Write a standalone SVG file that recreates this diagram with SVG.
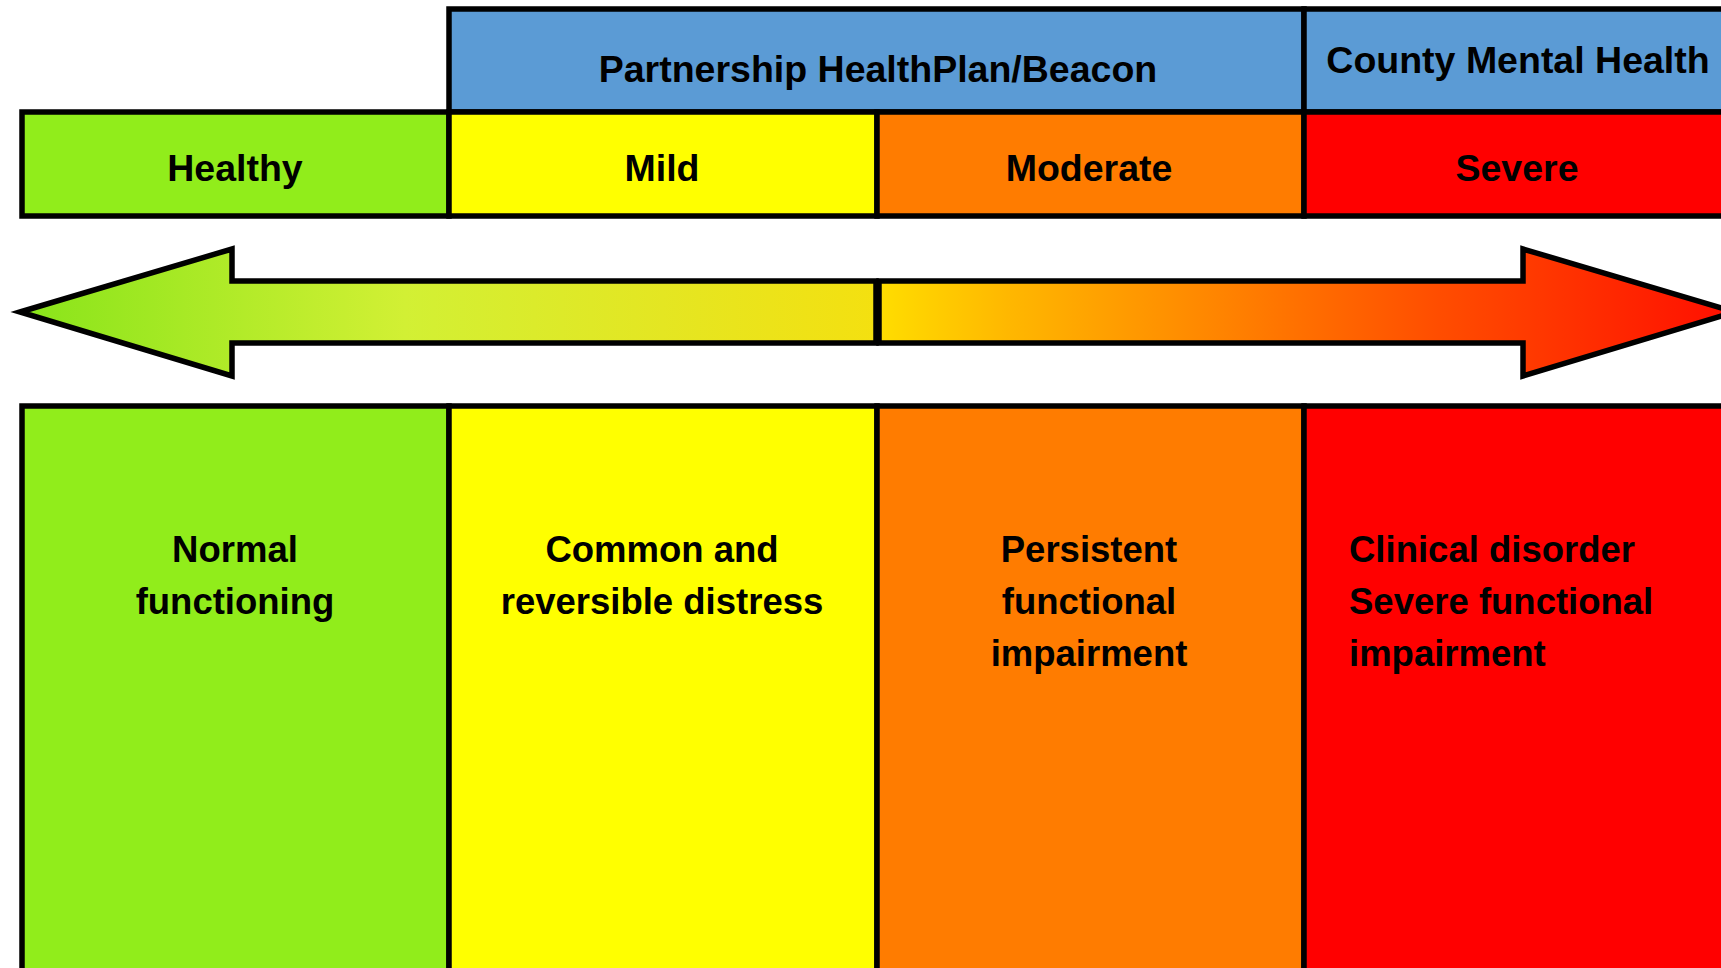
<svg xmlns="http://www.w3.org/2000/svg" width="1721" height="968" viewBox="0 0 1721 968">
<defs>
<style>
.box{stroke:#000;stroke-width:5.5}
.lbl{font-family:"Liberation Sans",Arial,sans-serif;font-weight:bold;font-size:37.5px;fill:#000}
.desc{font-size:36.5px}
.c{text-anchor:middle}
</style>
<linearGradient id="gLeft" gradientUnits="userSpaceOnUse" x1="20" y1="0" x2="877" y2="0">
<stop offset="0" stop-color="#88e41a"/>
<stop offset="0.45" stop-color="#d2f034"/>
<stop offset="0.75" stop-color="#e4e622"/>
<stop offset="1" stop-color="#f4e010"/>
</linearGradient>
<linearGradient id="gRight" gradientUnits="userSpaceOnUse" x1="877" y1="0" x2="1735" y2="0">
<stop offset="0" stop-color="#ffde00"/>
<stop offset="0.15" stop-color="#ffb800"/>
<stop offset="0.4" stop-color="#ff8400"/>
<stop offset="0.65" stop-color="#ff4e00"/>
<stop offset="1" stop-color="#ff0e00"/>
</linearGradient>
</defs>
<rect width="1721" height="968" fill="#fff"/>

<g id="payer-phc">
<rect class="box" x="449" y="9" width="855" height="103" fill="#5b9bd5"/>
<text class="lbl c" x="878" y="82">Partnership HealthPlan/Beacon</text>
</g>
<g id="payer-county">
<rect class="box" x="1304" y="9" width="427" height="103" fill="#5b9bd5"/>
<text class="lbl c" x="1518" y="73">County Mental Health</text>
</g>

<g id="level-healthy">
<rect class="box" x="22" y="112" width="427" height="104" fill="#91ed1b"/>
<text class="lbl c" x="235" y="181">Healthy</text>
</g>
<g id="level-mild">
<rect class="box" x="449" y="112" width="428" height="104" fill="#ffff00"/>
<text class="lbl c" x="662" y="181">Mild</text>
</g>
<g id="level-moderate">
<rect class="box" x="877" y="112" width="427" height="104" fill="#ff7c00"/>
<text class="lbl c" x="1089" y="181">Moderate</text>
</g>
<g id="level-severe">
<rect class="box" x="1304" y="112" width="427" height="104" fill="#ff0000"/>
<text class="lbl c" x="1517" y="181">Severe</text>
</g>

<g id="connectors">
<polygon class="box" fill="url(#gLeft)" points="20,312 232,249 232,281 876,281 876,343 232,343 232,376"/>
<polygon class="box" fill="url(#gRight)" points="879,281 1523,281 1523,249 1735,312 1523,376 1523,343 879,343"/>
</g>

<g id="desc-healthy">
<rect class="box" x="22" y="406" width="427" height="600" fill="#91ed1b"/>
<text class="lbl desc c" x="235" y="562">Normal</text>
<text class="lbl desc c" x="235" y="614">functioning</text>
</g>
<g id="desc-mild">
<rect class="box" x="449" y="406" width="428" height="600" fill="#ffff00"/>
<text class="lbl desc c" x="662" y="562">Common and</text>
<text class="lbl desc c" x="662" y="614">reversible distress</text>
</g>
<g id="desc-moderate">
<rect class="box" x="877" y="406" width="427" height="600" fill="#ff7c00"/>
<text class="lbl desc c" x="1089" y="562">Persistent</text>
<text class="lbl desc c" x="1089" y="614">functional</text>
<text class="lbl desc c" x="1089" y="666">impairment</text>
</g>
<g id="desc-severe">
<rect class="box" x="1304" y="406" width="427" height="600" fill="#ff0000"/>
<text class="lbl desc" x="1349" y="562">Clinical disorder</text>
<text class="lbl desc" x="1349" y="614">Severe functional</text>
<text class="lbl desc" x="1349" y="666">impairment</text>
</g>
</svg>
